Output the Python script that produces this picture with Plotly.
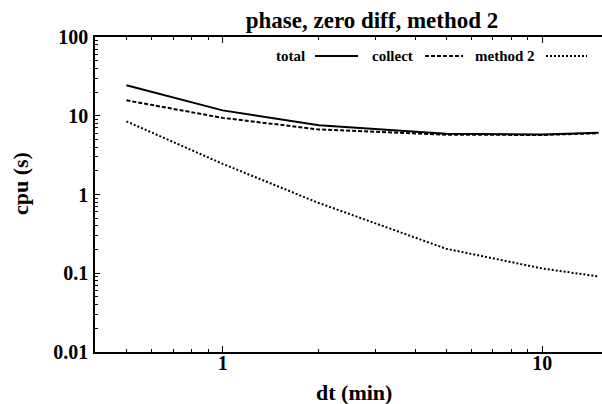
import plotly.graph_objects as go

# CPU time versus time step for the three timing components
dt_min = [0.5, 1, 2, 5, 10, 15]
cpu_total = [24.4, 11.7, 7.6, 5.9, 5.8, 6.1]
cpu_collect = [15.7, 9.4, 6.7, 5.75, 5.7, 6.0]
cpu_method2 = [8.5, 2.45, 0.78, 0.205, 0.115, 0.091]

x_ticks = [1, 10]
x_tick_text = ["1", "10"]
y_ticks = [0.01, 0.1, 1, 10, 100]
y_tick_text = ["0.01", "0.1", "1", "10", "100"]

series_names = ["total", "collect", "method 2"]
series_dash = ["solid", "4px,2px", "2px,2px"]

FONT = "Liberation Serif"
W, H = 602, 404
ML, MT, MB = 95, 37, 52

x_minor = [m * 10 ** e for e in (-1, 0, 1) for m in range(2, 10)]
y_minor = [m * 10 ** e for e in (-2, -1, 0, 1) for m in range(2, 10)]

fig = go.Figure()
for name, ys, dash in zip(series_names, [cpu_total, cpu_collect, cpu_method2], series_dash):
    fig.add_trace(go.Scatter(
        x=dt_min, y=ys, mode="lines", name=name,
        line=dict(color="black", width=2, dash=dash),
        showlegend=False,
    ))

axis_font = dict(family=FONT, size=20, color="black", weight="bold")

fig.update_layout(
    width=W, height=H,
    margin=dict(l=ML, r=0, t=MT, b=MB, pad=0),
    paper_bgcolor="white", plot_bgcolor="white",
    font=dict(family=FONT, color="black"),
    title=dict(
        text="<b>phase, zero diff, method 2</b>",
        font=dict(family=FONT, size=23, color="black"),
        xref="container", yref="container",
        x=372 / W, xanchor="center",
        y=1 - 20 / H, yanchor="middle",
    ),
    xaxis=dict(
        type="log", range=[-0.3994, 1.187],
        tickmode="array", tickvals=x_ticks, ticktext=x_tick_text,
        ticks="inside", ticklen=6, tickwidth=1.2, tickcolor="black",
        minor=dict(tickmode="array", tickvals=x_minor, ticks="inside",
                   ticklen=3, tickwidth=1, tickcolor="black", showgrid=False),
        showline=True, linecolor="black", linewidth=1.5, mirror="ticks",
        showgrid=False, zeroline=False,
        tickfont=axis_font, ticklabelstandoff=-8,
    ),
    yaxis=dict(
        type="log", range=[-2, 2],
        tickmode="array", tickvals=y_ticks, ticktext=y_tick_text,
        ticks="inside", ticklen=5, tickwidth=1.2, tickcolor="black",
        minor=dict(tickmode="array", tickvals=y_minor, ticks="inside",
                   ticklen=3, tickwidth=1, tickcolor="black", showgrid=False),
        showline=True, linecolor="black", linewidth=1.5,
        showgrid=False, zeroline=False,
        tickfont=axis_font, ticklabelstandoff=1,
    ),
)

# axis titles
fig.add_annotation(
    text="<b>dt (min)</b>", xref="paper", yref="paper",
    x=(354 - ML) / (W - ML), y=-(392 - (H - MB)) / (H - MT - MB),
    xanchor="center", yanchor="middle", showarrow=False, borderpad=0,
    font=dict(family=FONT, size=22, color="black"),
)
fig.add_annotation(
    text="<b>cpu (s)</b>", xref="paper", yref="paper",
    x=-(ML - 20) / (W - ML), y=((H - MB) - 184) / (H - MT - MB),
    xanchor="center", yanchor="middle", textangle=-90, showarrow=False,
    font=dict(family=FONT, size=22, color="black"),
)

# key: label followed by a line sample
key_y = 56
key_items = [
    ("total", 290, 315, 358),
    ("collect", 392, 425, 463),
    ("method 2", 505, 546, 587),
]
for (label, tx, x0, x1), dash in zip(key_items, series_dash):
    fig.add_annotation(
        text=f"<b>{label}</b>", xref="paper", yref="paper",
        x=(tx - ML) / (W - ML), y=((H - MB) - key_y) / (H - MT - MB),
        xanchor="center", yanchor="middle", showarrow=False,
        font=dict(family=FONT, size=15, color="black"),
    )
    fig.add_shape(
        type="line", xref="paper", yref="paper",
        x0=(x0 - ML) / (W - ML), x1=(x1 - ML) / (W - ML),
        y0=((H - MB) - key_y) / (H - MT - MB), y1=((H - MB) - key_y) / (H - MT - MB),
        line=dict(color="black", width=2, dash=dash),
    )

fig.write_html("out.html")
